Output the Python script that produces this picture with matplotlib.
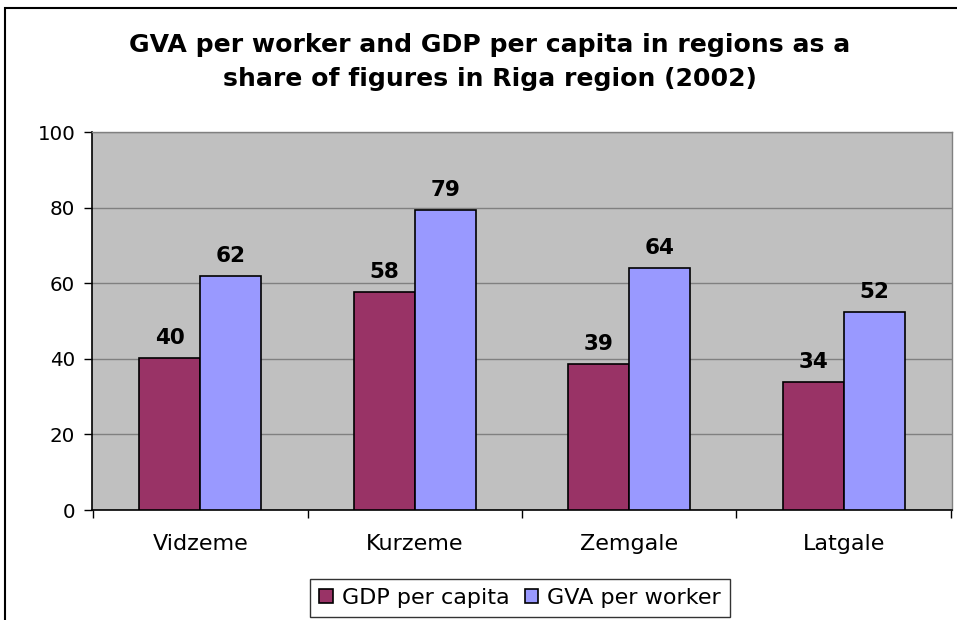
import matplotlib
matplotlib.use("Agg")
import matplotlib.pyplot as plt
from matplotlib.patches import Rectangle
import numpy as np

categories = ["Vidzeme", "Kurzeme", "Zemgale", "Latgale"]
gdp_per_capita = [40.2, 57.7, 38.6, 33.9]
gva_per_worker = [62.0, 79.4, 64.1, 52.4]
series_names = ["GDP per capita", "GVA per worker"]
yticks = [0, 20, 40, 60, 80, 100]
title_lines = ["GVA per worker and GDP per capita in regions as a",
               "share of figures in Riga region (2002)"]

W, H = 957, 620
fig = plt.figure(figsize=(W / 100, H / 100), dpi=100)
plt.rcParams["font.family"] = ["DejaVu Sans"]

# outer chart border (cropped at right and bottom)
fig.patches.append(Rectangle((5 / W, -0.1), 1.2, 1.1 - 8 / H, transform=fig.transFigure,
                             fill=False, edgecolor="black", linewidth=1.5))

ax = fig.add_axes([92 / W, 1 - 510 / H, (952 - 92) / W, (510 - 132) / H])
ax.set_facecolor("#C0C0C0")

x = np.arange(len(categories))
bw = 0.285
b1 = ax.bar(x - bw / 2, gdp_per_capita, bw, color="#993366", edgecolor="black", linewidth=1.2, label=series_names[0], zorder=3)
b2 = ax.bar(x + bw / 2, gva_per_worker, bw, color="#9999FF", edgecolor="black", linewidth=1.2, label=series_names[1], zorder=3)

for bars, vals in ((b1, gdp_per_capita), (b2, gva_per_worker)):
    for rect, v in zip(bars, vals):
        ax.annotate(f"{v:.0f}", (rect.get_x() + rect.get_width() / 2, v), xytext=(0, 7),
                    textcoords="offset points", ha="center", va="bottom",
                    fontsize=15.5, fontweight="bold", zorder=4)

ax.set_xlim(-0.505, len(categories) - 0.495)
ax.set_ylim(0, 100)
ax.set_yticks(yticks)
ax.tick_params(axis="y", labelsize=14.3, length=6, width=1, direction="out", pad=6)
ax.set_xticks(x)
ax.set_xticklabels(categories, fontsize=16)
ax.tick_params(axis="x", length=0, pad=17)
ax.set_xticks(np.arange(len(categories) + 1) - 0.5, minor=True)
ax.tick_params(axis="x", which="minor", length=6, width=1, direction="out")
ax.grid(axis="y", color="#808080", linewidth=1, zorder=0)
ax.set_axisbelow(True)
for s in ("top", "right"):
    ax.spines[s].set_color("#808080")
    ax.spines[s].set_linewidth(1)
for s in ("left", "bottom"):
    ax.spines[s].set_color("black")
    ax.spines[s].set_linewidth(1.2)

for i, (line, base) in enumerate(zip(title_lines, (52, 86))):
    fig.text(490 / W, 1 - base / H, line, ha="center", va="baseline",
             fontsize=18.1, fontweight="bold")

leg = fig.legend(handles=[b1, b2], labels=series_names, loc="center", bbox_to_anchor=(520 / W, 1 - 598 / H),
                 ncol=2, fontsize=16, frameon=True, fancybox=False, edgecolor="black",
                 handlelength=0.6, handleheight=0.6, handletextpad=0.4, columnspacing=0.7,
                 borderpad=0.4, borderaxespad=0)
leg.get_frame().set_linewidth(1)

fig.savefig("out.png", dpi=100, facecolor="white")
